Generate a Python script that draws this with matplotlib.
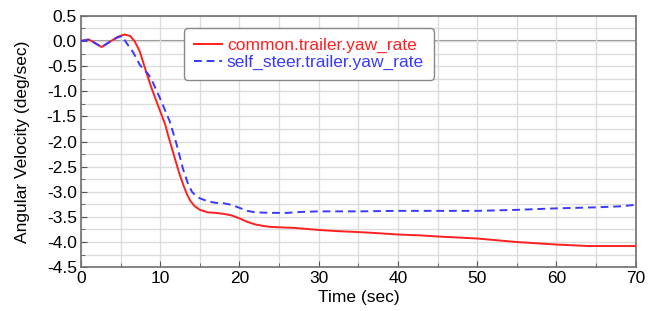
import numpy as np
import matplotlib.pyplot as plt
from matplotlib.ticker import MultipleLocator

plt.rcParams['font.family'] = ['Liberation Sans', 'DejaVu Sans']

# red curve: common.trailer.yaw_rate
t_common = [0, 1, 2.6, 3.8, 4.6, 5.5, 6.2, 6.75, 7.4, 8.4, 9, 10, 10.6, 11, 11.5, 12, 12.5,
            13, 13.4, 13.8, 14.3, 15, 16, 17, 18, 19, 20, 21, 22, 23, 24, 27, 30, 32, 36,
            40, 43, 45, 50, 55, 60, 64, 70]
y_common = [0, 0.03, -0.12, 0.0, 0.08, 0.13, 0.1, 0.0, -0.2, -0.7, -0.98, -1.4, -1.65,
            -1.88, -2.15, -2.42, -2.68, -2.9, -3.06, -3.18, -3.28, -3.36, -3.41, -3.42,
            -3.44, -3.47, -3.53, -3.6, -3.65, -3.68, -3.7, -3.72, -3.76, -3.78, -3.81,
            -3.85, -3.87, -3.89, -3.93, -4.0, -4.05, -4.08, -4.08]

# blue dashed curve: self_steer.trailer.yaw_rate
t_self = [0, 1, 2.6, 3.8, 4.6, 5.2, 5.7, 6.6, 7.4, 8, 8.5, 9, 10, 11.2, 12, 12.9, 13.5,
          14, 14.5, 15, 16, 17, 18, 19, 20, 21, 22, 24, 26, 28, 30, 35, 40, 45, 50, 55,
          60, 65, 68, 70]
y_self = [0, 0.03, -0.12, 0.0, 0.07, 0.1, -0.03, -0.23, -0.47, -0.58, -0.66, -0.8,
          -1.15, -1.6, -2.02, -2.56, -2.84, -3.0, -3.08, -3.13, -3.19, -3.22, -3.23, -3.26,
          -3.32, -3.38, -3.41, -3.42, -3.42, -3.4, -3.39, -3.39, -3.38, -3.38, -3.38,
          -3.36, -3.33, -3.31, -3.29, -3.26]

fig = plt.figure(figsize=(6.48, 3.11), dpi=100)
ax = fig.add_axes([0.125, 0.141, 0.856, 0.808])

ax.axhline(0, color='#909090', lw=1.5, zorder=1)
ax.plot(t_common, y_common, color='#ff2020', lw=1.4, label='common.trailer.yaw_rate', zorder=3)
ax.plot(t_self, y_self, color='#3a3aff', lw=1.4, ls=(0, (4, 2.5)),
        label='self_steer.trailer.yaw_rate', zorder=3)

ax.set_xlim(0, 70)
ax.set_ylim(-4.5, 0.5)
ax.xaxis.set_major_locator(MultipleLocator(10))
ax.xaxis.set_minor_locator(MultipleLocator(5))
ax.yaxis.set_major_locator(MultipleLocator(0.5))
ax.yaxis.set_minor_locator(MultipleLocator(0.25))
ax.yaxis.set_major_formatter(plt.FormatStrFormatter('%.1f'))
ax.grid(which='both', color='#dcdcdc', lw=1.0, zorder=0)
ax.tick_params(which='both', direction='in', labelsize=12.5, color='#555555', pad=3)
ax.tick_params(which='major', length=4)
ax.tick_params(which='minor', length=3)
for s in ax.spines.values():
    s.set_color('#707070')
    s.set_linewidth(1.2)

ax.set_xlabel('Time (sec)', fontsize=12.5, labelpad=3)
ax.set_ylabel('Angular Velocity (deg/sec)', fontsize=12.5, labelpad=12)

leg = ax.legend(loc='upper left', bbox_to_anchor=(0.18, 0.965), fontsize=12.5,
                handlelength=1.6, handletextpad=0.3, borderpad=0.55, labelspacing=0.1,
                borderaxespad=0.2, fancybox=True, framealpha=1, edgecolor='#888888')
for txt, c in zip(leg.get_texts(), ['#ff2020', '#3a3aff']):
    txt.set_color(c)

fig.savefig('out.png', dpi=100)
